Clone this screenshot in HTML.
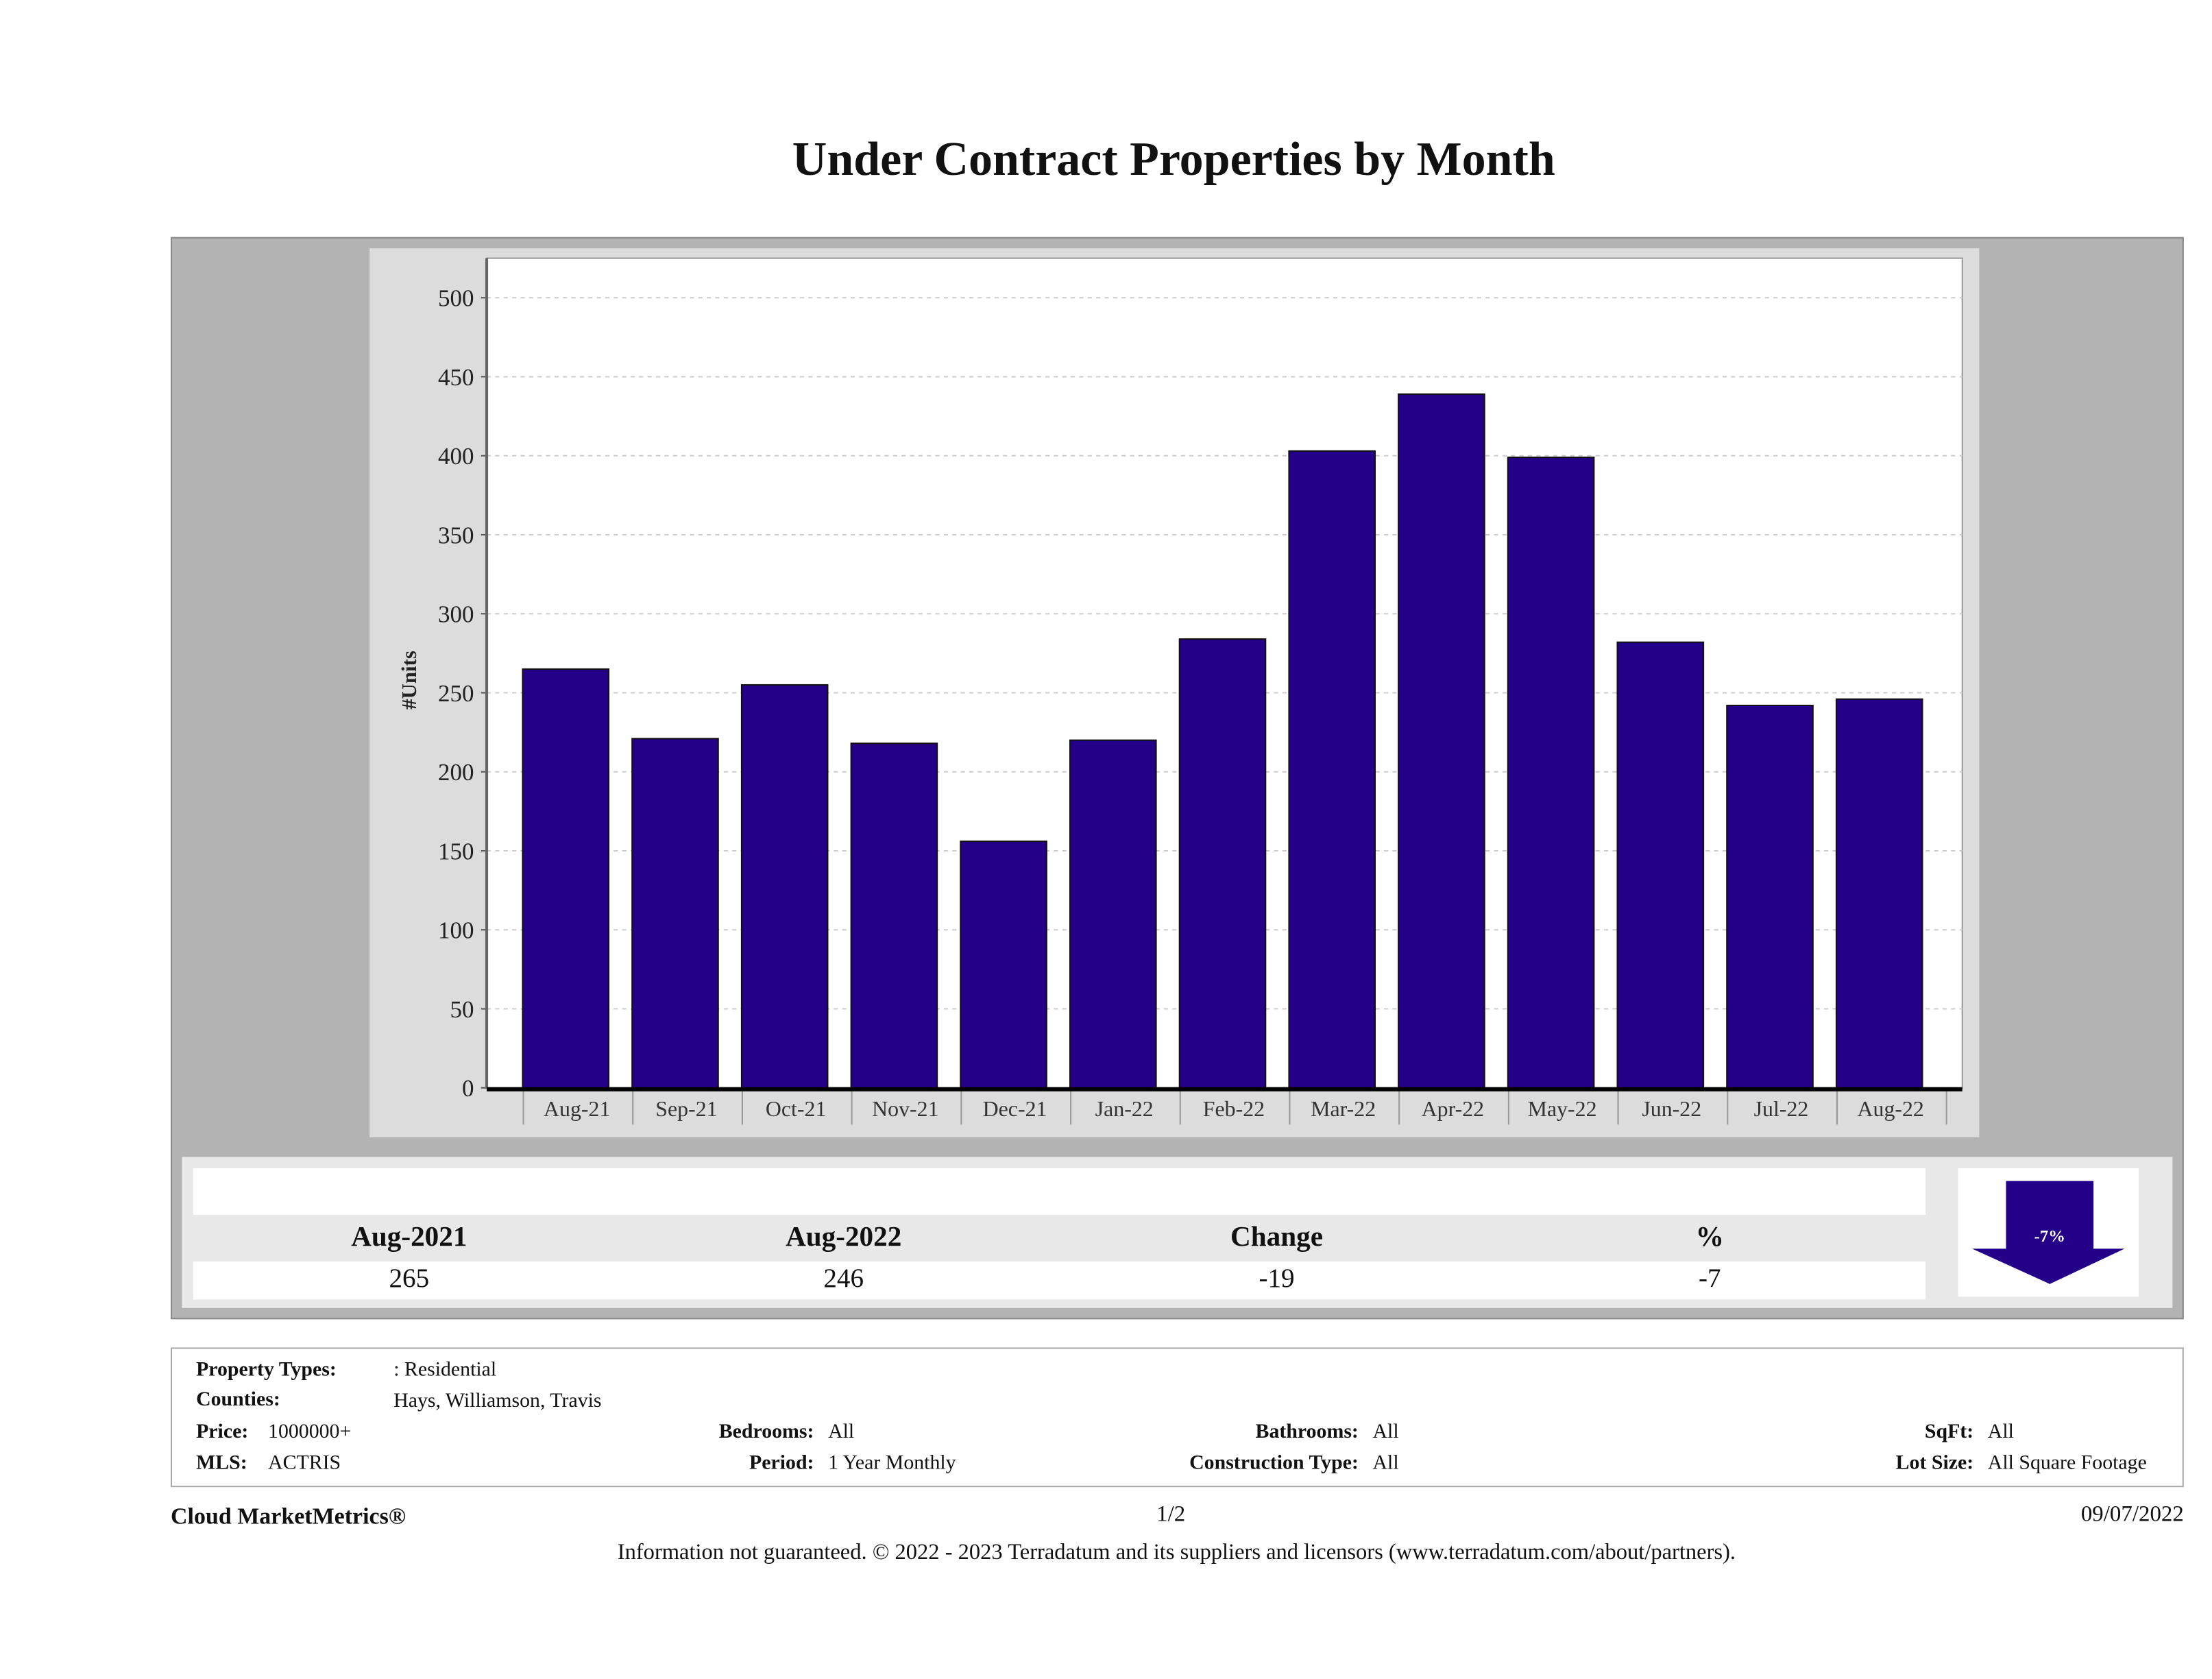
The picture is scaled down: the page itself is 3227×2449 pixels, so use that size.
<!DOCTYPE html>
<html><head><meta charset="utf-8"><style>
html,body{margin:0;padding:0;background:#fff;}
body{width:3227px;height:2448px;overflow:hidden;}
#wrap{position:absolute;left:0;top:0;width:1568px;height:1190px;transform:scale(2.05804);transform-origin:0 0;font-family:"Liberation Serif",serif;color:#111;}
.a{position:absolute;}
.lbl{font-size:14.5px;}
.b{font-weight:bold;}
</style></head><body><div id="wrap">
<div class="a b" style="left:0;width:1664px;top:95px;text-align:center;font-size:34px;">Under Contract Properties by Month</div>
<div class="a" style="left:121px;top:168px;width:1425px;height:765px;background:#b3b3b3;border:1px solid #8a8a8a;"></div>
<svg class="a" style="left:0;top:0" width="1568" height="1190" id="chart"></svg>
<div class="a" style="left:129px;top:820px;width:1411px;height:107px;background:#e8e8e8;"></div>
<div class="a" style="left:137px;top:828px;width:1228px;height:33px;background:#fff;"></div>
<div class="a" style="left:137px;top:894px;width:1228px;height:27px;background:#fff;"></div>
<div class="a b" style="left:190px;width:200px;top:866px;text-align:center;font-size:20px;">Aug-2021</div>
<div class="a b" style="left:498px;width:200px;top:866px;text-align:center;font-size:20px;">Aug-2022</div>
<div class="a b" style="left:805px;width:200px;top:866px;text-align:center;font-size:20px;">Change</div>
<div class="a b" style="left:1112px;width:200px;top:866px;text-align:center;font-size:20px;">%</div>
<div class="a" style="left:190px;width:200px;top:896px;text-align:center;font-size:19px;">265</div>
<div class="a" style="left:498px;width:200px;top:896px;text-align:center;font-size:19px;">246</div>
<div class="a" style="left:805px;width:200px;top:896px;text-align:center;font-size:19px;">-19</div>
<div class="a" style="left:1112px;width:200px;top:896px;text-align:center;font-size:19px;">-7</div>
<div class="a" style="left:1388px;top:828px;width:128px;height:91px;background:#fff;"></div>
<svg class="a" style="left:1388px;top:828px" width="128" height="91">
<polygon points="34,9 96,9 96,57 118,57 65,82 10,57 34,57" fill="#240088"/>
<text x="65" y="52" text-anchor="middle" fill="#fff" font-size="12" font-weight="bold" font-family="Liberation Serif">-7%</text></svg>
<div class="a" style="left:121px;top:955px;width:1425px;height:97px;background:#fff;border:1px solid #aaa;"></div>
<div class="a lbl b" style="left:139px;top:963px">Property Types:</div>
<div class="a lbl" style="left:279px;top:963px">: Residential</div>
<div class="a lbl b" style="left:139px;top:984px">Counties:</div>
<div class="a lbl" style="left:279px;top:985px">Hays, Williamson, Travis</div>
<div class="a lbl b" style="left:139px;top:1007px">Price:</div>
<div class="a lbl" style="left:190px;top:1007px">1000000+</div>
<div class="a lbl b" style="left:139px;top:1029px">MLS:</div>
<div class="a lbl" style="left:190px;top:1029px">ACTRIS</div>
<div class="a lbl b" style="left:457px;width:120px;text-align:right;top:1007px">Bedrooms:</div>
<div class="a lbl" style="left:587px;top:1007px">All</div>
<div class="a lbl b" style="left:457px;width:120px;text-align:right;top:1029px">Period:</div>
<div class="a lbl" style="left:587px;top:1029px">1 Year Monthly</div>
<div class="a lbl b" style="left:780px;width:183px;text-align:right;top:1007px">Bathrooms:</div>
<div class="a lbl" style="left:973px;top:1007px">All</div>
<div class="a lbl b" style="left:780px;width:183px;text-align:right;top:1029px">Construction Type:</div>
<div class="a lbl" style="left:973px;top:1029px">All</div>
<div class="a lbl b" style="left:1280px;width:119px;text-align:right;top:1007px">SqFt:</div>
<div class="a lbl" style="left:1409px;top:1007px">All</div>
<div class="a lbl b" style="left:1280px;width:119px;text-align:right;top:1029px">Lot Size:</div>
<div class="a lbl" style="left:1409px;top:1029px">All Square Footage</div>
<div class="a b" style="left:121px;top:1065px;font-size:16.5px;">Cloud MarketMetrics®</div>
<div class="a" style="left:780px;width:100px;text-align:center;top:1065px;font-size:16px;">1/2</div>
<div class="a" style="left:1380px;width:168px;text-align:right;top:1065px;font-size:16px;">09/07/2022</div>
<div class="a" style="left:0;width:1668px;text-align:center;top:1092px;font-size:15.8px;">Information not guaranteed. © 2022 - 2023 Terradatum and its suppliers and licensors (www.terradatum.com/about/partners).</div>
</div>
<script>
const categories=["Aug-21","Sep-21","Oct-21","Nov-21","Dec-21","Jan-22","Feb-22","Mar-22","Apr-22","May-22","Jun-22","Jul-22","Aug-22"];
const values=[265,221,255,218,156,220,284,403,439,399,282,242,246];
const yTicks=[0,50,100,150,200,250,300,350,400,450,500];
const svg=document.getElementById('chart');
const NS='http://www.w3.org/2000/svg';
function mk(t,at,parent){const e=document.createElementNS(NS,t);for(const k in at)e.setAttribute(k,at[k]);(parent||svg).appendChild(e);return e;}
const X0=345,X1=1391,Y0=771,Y500=211;
function y(v){return Y0-(v/500)*(Y0-Y500);}
const step=77.6,first=401;
function x(i){return first+i*step;}
let e;
e=mk('rect',{x:262,y:176,width:1141,height:630,fill:'#dcdcdc'});


e=mk('rect',{x:X0,y:183,width:X1-X0,height:Y0-183,fill:'#fff',stroke:'#999','stroke-width':1});


yTicks.forEach(t=>{
  if(t>0){e=mk('line',{x1:X0,x2:X1,y1:y(t),y2:y(t),stroke:'#ccc','stroke-dasharray':'3,3','stroke-width':1});
  
  }
  mk('line',{x1:X0-4,x2:X0,y1:y(t),y2:y(t),stroke:'#555'});
  e=mk('text',{x:X0-9,y:y(t)+6,'text-anchor':'end','font-size':17,'font-family':'Liberation Serif',fill:'#222'});
  e.textContent=t;
  
  
});
mk('line',{x1:X0,x2:X0,y1:183,y2:Y0,stroke:'#666','stroke-width':2});
values.forEach((v,i)=>{
  e=mk('rect',{x:x(i)-30.5,y:y(v),width:61,height:Y0-y(v),fill:'#240088',stroke:'#111','stroke-width':1});
  
  
  e=mk('text',{x:x(i)+8,y:791,'text-anchor':'middle','font-size':15.5,'font-family':'Liberation Serif',fill:'#333'});
  e.textContent=categories[i];
  
  
  mk('line',{x1:x(i)-30,x2:x(i)-30,y1:Y0,y2:797,stroke:'#999'});
});
mk('line',{x1:x(12)+step-30,x2:x(12)+step-30,y1:Y0,y2:797,stroke:'#999'});
e=mk('line',{x1:X0,x2:X1,y1:Y0+1,y2:Y0+1,stroke:'#000','stroke-width':3});


e=mk('text',{x:0,y:0,transform:'translate(295,482) rotate(-90)','text-anchor':'middle','font-size':15,'font-weight':'bold','font-family':'Liberation Serif',fill:'#222'});
e.textContent='#Units';


</script>
</body></html>
